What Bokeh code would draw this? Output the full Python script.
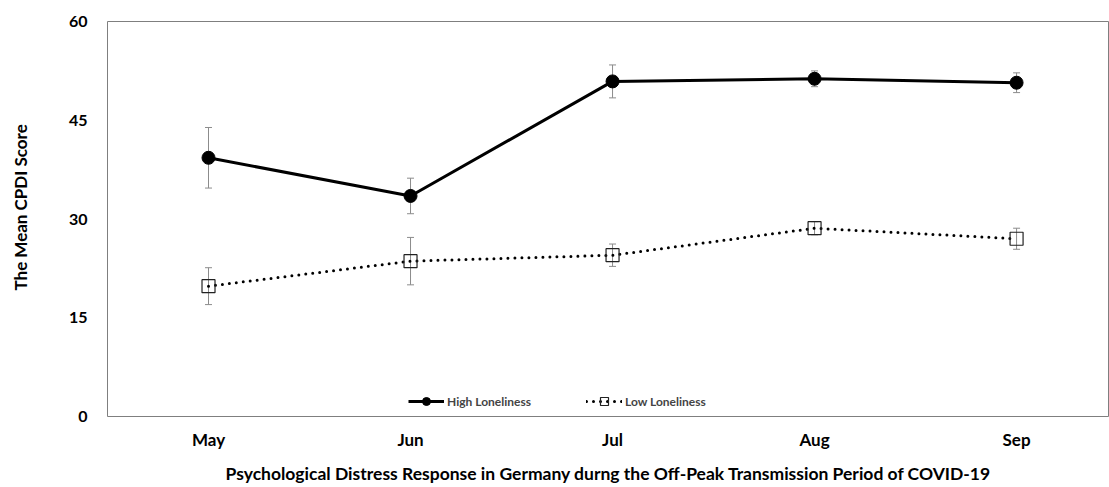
from bokeh.plotting import figure
from bokeh.models import (ColumnDataSource, Whisker, TeeHead, Legend, LegendItem,
                          FixedTicker, Title)
from bokeh.embed import file_html
from bokeh.resources import INLINE

months = ["May", "Jun", "Jul", "Aug", "Sep"]
high_mean = [39.3, 33.5, 50.9, 51.3, 50.7]
high_err = [4.6, 2.7, 2.5, 1.2, 1.5]
low_mean = [19.8, 23.6, 24.5, 28.6, 27.0]
low_err = [2.8, 3.6, 1.7, 1.0, 1.6]
y_ticks = [0, 15, 30, 45, 60]

FONT = "Lato"
xs = list(range(len(months)))

src_h = ColumnDataSource(dict(x=xs, y=high_mean,
                              lo=[m - e for m, e in zip(high_mean, high_err)],
                              hi=[m + e for m, e in zip(high_mean, high_err)]))
src_l = ColumnDataSource(dict(x=xs, y=low_mean,
                              lo=[m - e for m, e in zip(low_mean, low_err)],
                              hi=[m + e for m, e in zip(low_mean, low_err)]))

p = figure(width=1109, height=487, x_range=(-0.5, 4.46), y_range=(0, 60),
           output_backend="svg", toolbar_location=None,
           min_border_left=107, min_border_right=0, min_border_top=21,
           min_border_bottom=71)
p.xgrid.visible = False
p.ygrid.visible = False
p.outline_line_color = "#7f7f7f"
p.outline_line_width = 1
p.background_fill_color = "white"
p.border_fill_color = "white"

for src in (src_h, src_l):
    w = Whisker(source=src, base="x", upper="hi", lower="lo",
                line_color="#8c8c8c", line_width=1,
                upper_head=TeeHead(size=7, line_color="#8c8c8c", line_width=1),
                lower_head=TeeHead(size=7, line_color="#8c8c8c", line_width=1))
    p.add_layout(w)

hl = p.line("x", "y", source=src_h, line_color="black", line_width=3)
hm = p.scatter("x", "y", source=src_h, marker="circle", size=13,
               fill_color="black", line_color="black")
ll = p.line("x", "y", source=src_l, line_color="black", line_width=3,
            line_dash="0 7", line_cap="round")
lm = p.scatter("x", "y", source=src_l, marker="square", size=13,
               fill_alpha=0, line_color="#222222", line_width=1.2)

legend = Legend(items=[LegendItem(label="High Loneliness", renderers=[hl, hm]),
                       LegendItem(label="Low Loneliness", renderers=[ll, lm])],
                orientation="horizontal", location=(301, 5),
                border_line_color=None, background_fill_alpha=0,
                label_text_font=FONT, label_text_font_style="bold",
                label_text_font_size="12px", glyph_width=36, glyph_height=20,
                spacing=55, label_standoff=3, padding=2, margin=0)
p.add_layout(legend)

p.xaxis.ticker = FixedTicker(ticks=xs)
p.xaxis.major_label_overrides = {i: m for i, m in enumerate(months)}
p.xaxis.axis_line_color = None
p.xaxis.major_tick_line_color = None
p.xaxis.minor_tick_line_color = None
p.xaxis.major_label_text_font = FONT
p.xaxis.major_label_text_font_style = "bold"
p.xaxis.major_label_text_font_size = "17px"
p.xaxis.major_label_text_color = "black"
p.xaxis.major_label_standoff = 6
p.xaxis.axis_label = "Psychological Distress Response in Germany durng the Off-Peak Transmission Period of COVID-19"
p.xaxis.axis_label_text_font = FONT
p.xaxis.axis_label_text_font_style = "bold"
p.xaxis.axis_label_text_font_size = "17.5px"
p.xaxis.axis_label_text_color = "black"
p.xaxis.axis_label_standoff = 10

p.yaxis.ticker = FixedTicker(ticks=y_ticks)
p.yaxis.axis_line_color = None
p.yaxis.major_tick_line_color = None
p.yaxis.minor_tick_line_color = None
p.yaxis.major_label_text_font = FONT
p.yaxis.major_label_text_font_style = "bold"
p.yaxis.major_label_text_font_size = "16px"
p.yaxis.major_label_text_color = "black"
p.yaxis.major_label_standoff = 14

spacer = Title(text=" ", text_font_size="1px", standoff=32)
p.add_layout(spacer, "left")

ytitle = Title(text="The Mean CPDI Score", align="left", offset=126,
               text_font=FONT, text_font_style="bold", text_font_size="17px",
               text_color="black", standoff=0)
p.add_layout(ytitle, "left")

open("out.html", "w").write(file_html(p, INLINE))
